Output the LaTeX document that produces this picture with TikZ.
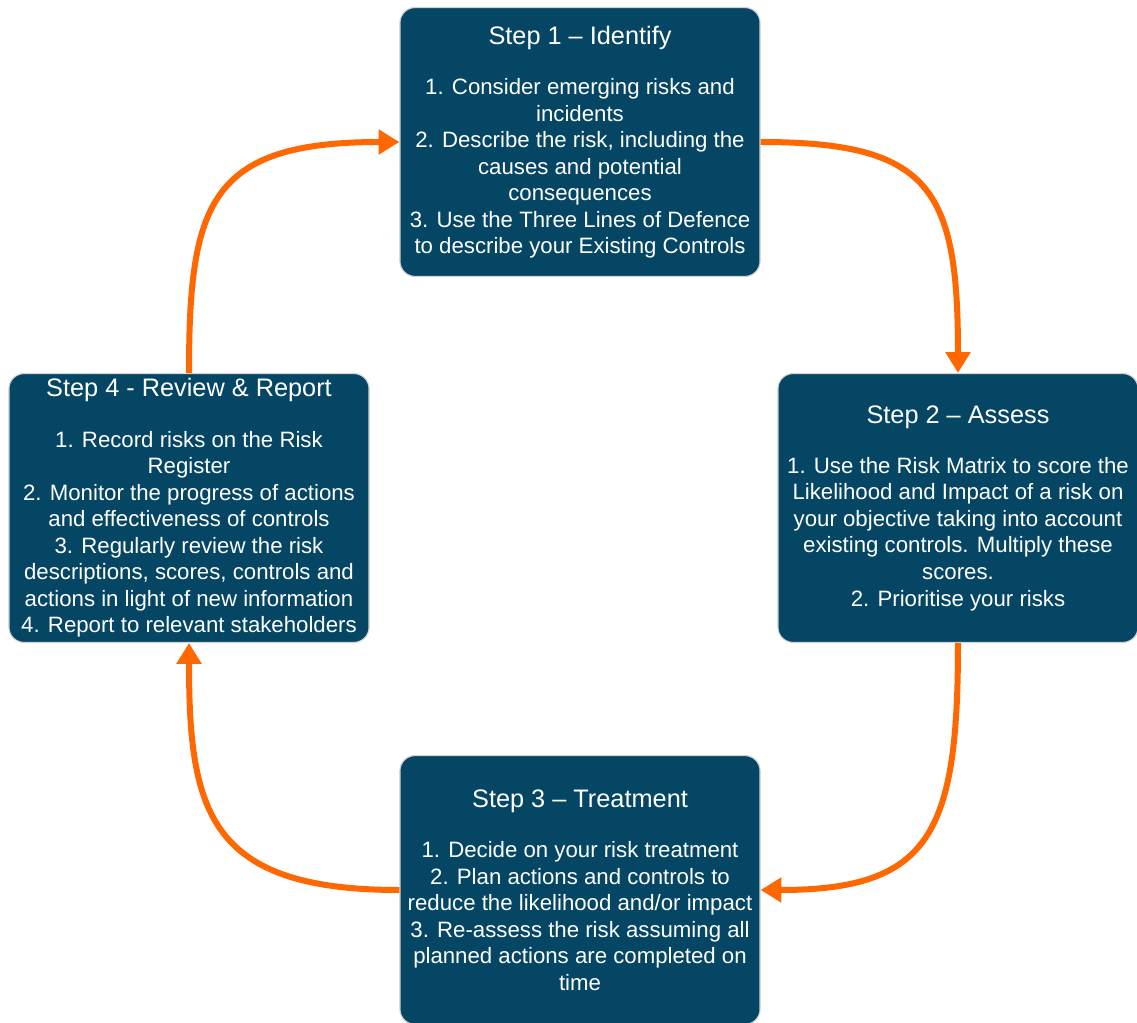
\documentclass[tikz,border=0pt]{standalone}
\usepackage{fontspec}
\setmainfont{Liberation Sans}
\usetikzlibrary{arrows.meta}
\definecolor{stepblue}{RGB}{5,70,100}
\definecolor{looporange}{RGB}{255,104,0}
\newcommand{\steptitle}[1]{{\fontsize{18}{22}\selectfont #1}\\[17pt]}

\begin{document}
\begin{tikzpicture}[x=0.025cm,y=-0.025cm,>={Triangle[length=0.52cm,width=0.6cm]},
  stepbox/.style={draw=gray!35,line width=0.8pt,fill=stepblue,text=white,rounded corners=0.38cm,
    minimum width=9cm,minimum height=6.72cm,inner sep=0pt,align=center,
    font=\fontsize{15.8}{18.85}\selectfont},
  flow/.style={->,draw=looporange,line width=0.15cm}]
\useasboundingbox (0,0) rectangle (1137,1023);
% the four steps
\node[stepbox] (s1) at (580,142) {\steptitle{Step 1 -- Identify}
  1. Consider emerging risks and\\ incidents\\ 2. Describe the risk, including the\\
  causes and potential\\ consequences\\ 3. Use the Three Lines of Defence\\
  to describe your Existing Controls};
\node[stepbox] (s2) at (958,508) {\steptitle{Step 2 -- Assess}
  1. Use the Risk Matrix to score the\\ Likelihood and Impact of a risk on\\
  your objective taking into account\\ existing controls. Multiply these\\
  scores.\\ 2. Prioritise your risks};
\node[stepbox] (s3) at (580,890) {\steptitle{Step 3 -- Treatment}
  1. Decide on your risk treatment\\ 2. Plan actions and controls to\\
  reduce the likelihood and/or impact\\ 3. Re-assess the risk assuming all\\
  planned actions are completed on\\ time};
\node[stepbox] (s4) at (189,508) {\steptitle{Step 4 - Review \& Report}
  1. Record risks on the Risk\\ Register\\ 2. Monitor the progress of actions\\
  and effectiveness of controls\\ 3. Regularly review the risk\\
  descriptions, scores, controls and\\ actions in light of new information\\
  4. Report to relevant stakeholders};
% the loop
\draw[flow] (s1.east) .. controls +(170,0) and +(0,-184) .. (s2.north);
\draw[flow] (s2.south) .. controls +(0,190) and +(170,0) .. (s3.east);
\draw[flow] (s3.west) .. controls +(-190,0) and +(0,170) .. (s4.south);
\draw[flow] (s4.north) .. controls +(0,-170) and +(-190,0) .. (s1.west);
\end{tikzpicture}
\end{document}
